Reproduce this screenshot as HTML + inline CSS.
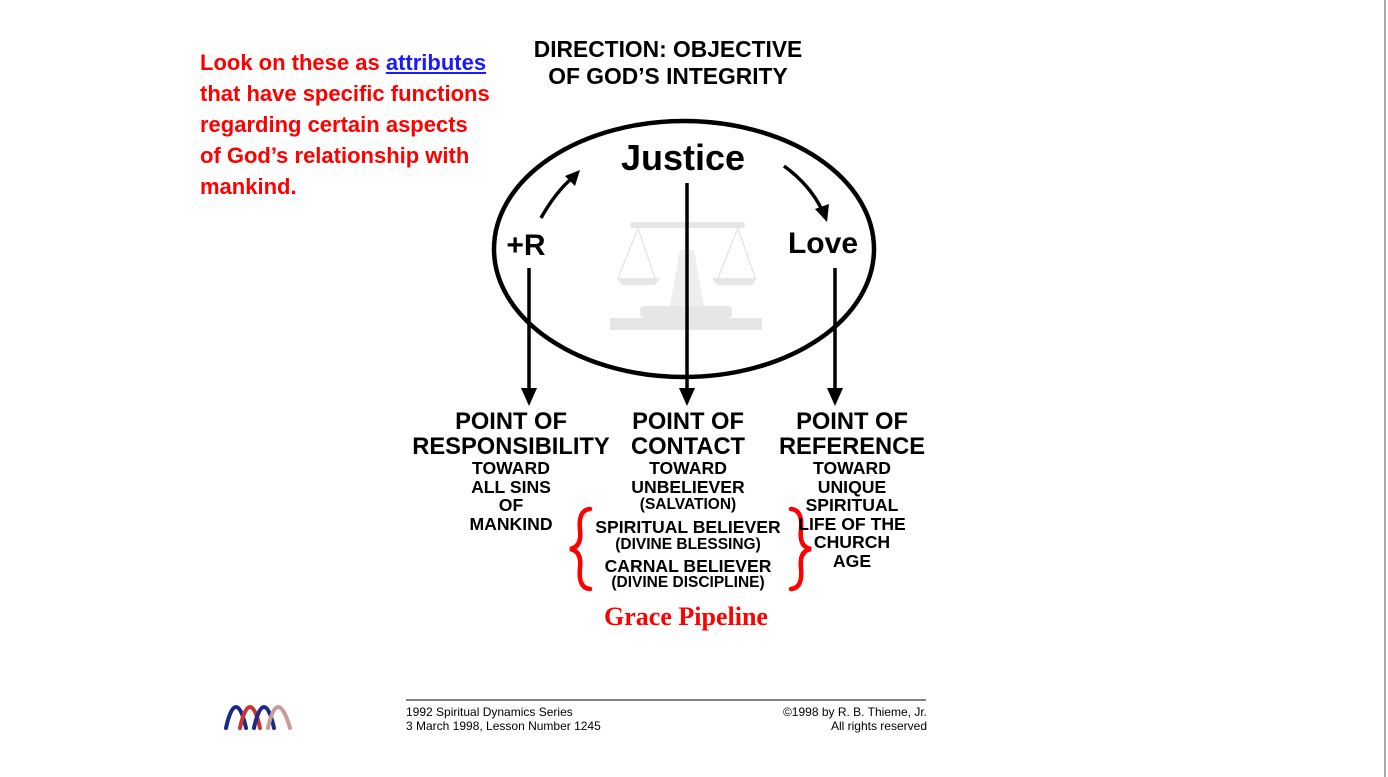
<!DOCTYPE html>
<html><head><meta charset="utf-8"><style>
body{margin:0;width:1388px;height:777px;background:#fff;overflow:hidden;position:relative;font-family:"Liberation Sans",Arial,sans-serif}
.t{position:absolute;white-space:nowrap}
.red{color:#f00;font-weight:bold;font-size:22px;left:200px;line-height:31px;top:47px;position:absolute}
.red a{color:#1a1aff;text-decoration:underline}
.c{position:absolute;text-align:center;font-weight:bold;transform:translateX(-50%);white-space:nowrap}
.b{font-size:23.7px;line-height:25px}
.s{font-size:17.6px;line-height:18.6px}
.xs{font-size:15.5px;line-height:18px}
</style></head><body>
<div class="red">Look on these as <a>attributes</a><br>that have specific functions<br>regarding certain aspects<br>of God’s relationship with<br>mankind.</div>
<div class="c" style="left:668px;top:36px;font-size:22.8px;line-height:27px">DIRECTION: OBJECTIVE<br>OF GOD’S INTEGRITY</div>
<svg width="1388" height="777" style="position:absolute;left:0;top:0">
<g fill="#e6e6e6" stroke="none">
<rect x="610" y="318" width="152" height="12"/><rect x="640" y="306" width="92" height="12" rx="4"/>
<path d="M670 306 L680 250 L694 250 L704 306Z" fill="#eee"/>
<rect x="630" y="222" width="115" height="6" rx="3"/>
<path d="M617 278 L660 278 L655 285 L622 285Z"/><path d="M712 278 L757 278 L752 285 L717 285Z"/>
</g>
<g stroke="#ddd" stroke-width="1" fill="none"><path d="M638 228 L618 278 M638 228 L655 278 M738 228 L718 278 M738 228 L755 278"/></g>
<ellipse cx="684" cy="249" rx="190" ry="128" fill="none" stroke="#000" stroke-width="4.5"/>
<g stroke="#000" stroke-width="3.5" fill="none">
<line x1="529" y1="268" x2="529" y2="390"/><line x1="687" y1="183" x2="687" y2="390"/><line x1="835" y1="268" x2="835" y2="390"/>
<path d="M541 218 Q555 193 572 178"/><path d="M784 166 Q810 185 822 210"/>
</g>
<g fill="#000"><path d="M521 388 L529 406 L537 388Z"/><path d="M679 388 L687 406 L695 388Z"/><path d="M827 388 L835 406 L843 388Z"/>
<path d="M565 176 L580 170 L575 186Z"/><path d="M815 209 L827 222 L829 204Z"/></g>
<line x1="406" y1="700" x2="926" y2="700" stroke="#000" stroke-width="1"/>
<line x1="1385" y1="0" x2="1385" y2="777" stroke="#aaa" stroke-width="2"/>
<g fill="none" stroke-width="4" stroke-linecap="round">
<path d="M226 728 C232 700 240 700 246 728" stroke="#1b2a8a"/><path d="M240 728 C246 700 254 700 260 728" stroke="#c33"/>
<path d="M254 728 C260 700 268 700 274 728" stroke="#1b2a8a"/><path d="M268 728 C274 700 282 700 290 728" stroke="#c99"/>
</g>
<g fill="none" stroke="#f00" stroke-width="4.5" stroke-linecap="round">
<path d="M590 509 Q578 510 580 530 Q582 547 570 549 Q582 551 580 568 Q578 588 590 589"/>
<path d="M791 509 Q803 510 801 530 Q799 547 811 549 Q799 551 801 568 Q803 588 791 589"/>
</g>
</svg>
<div class="c" style="left:683px;top:137px;font-size:36px">Justice</div>
<div class="c" style="left:526px;top:229px;font-size:30px">+R</div>
<div class="c" style="left:823px;top:227px;font-size:30px">Love</div>
<div class="c b" style="left:511px;top:410px">POINT OF<br>RESPONSIBILITY</div>
<div class="c b" style="left:688px;top:410px">POINT OF<br>CONTACT</div>
<div class="c b" style="left:852px;top:410px">POINT OF<br>REFERENCE</div>
<div class="c s" style="left:511px;top:459px">TOWARD<br>ALL SINS<br>OF<br>MANKIND</div>
<div class="c s" style="left:688px;top:459px">TOWARD<br>UNBELIEVER</div>
<div class="c xs" style="left:688px;top:496px">(SALVATION)</div>
<div class="c s" style="left:688px;top:518px">SPIRITUAL BELIEVER</div>
<div class="c xs" style="left:688px;top:536px">(DIVINE BLESSING)</div>
<div class="c s" style="left:688px;top:557px">CARNAL BELIEVER</div>
<div class="c xs" style="left:688px;top:574px">(DIVINE DISCIPLINE)</div>
<div class="c s" style="left:852px;top:459px">TOWARD<br>UNIQUE<br>SPIRITUAL<br>LIFE OF THE<br>CHURCH<br>AGE</div>
<div class="c" style="left:686px;top:602px;color:#f00;font-size:26px;font-family:'Liberation Serif',serif">Grace Pipeline</div>
<div class="t" style="left:406px;top:705px;font-size:12px;line-height:14px">1992 Spiritual Dynamics Series<br>3 March 1998, Lesson Number 1245</div>
<div class="t" style="right:461px;top:705px;font-size:12px;line-height:14px;text-align:right">©1998 by R. B. Thieme, Jr.<br>All rights reserved</div>
</body></html>
